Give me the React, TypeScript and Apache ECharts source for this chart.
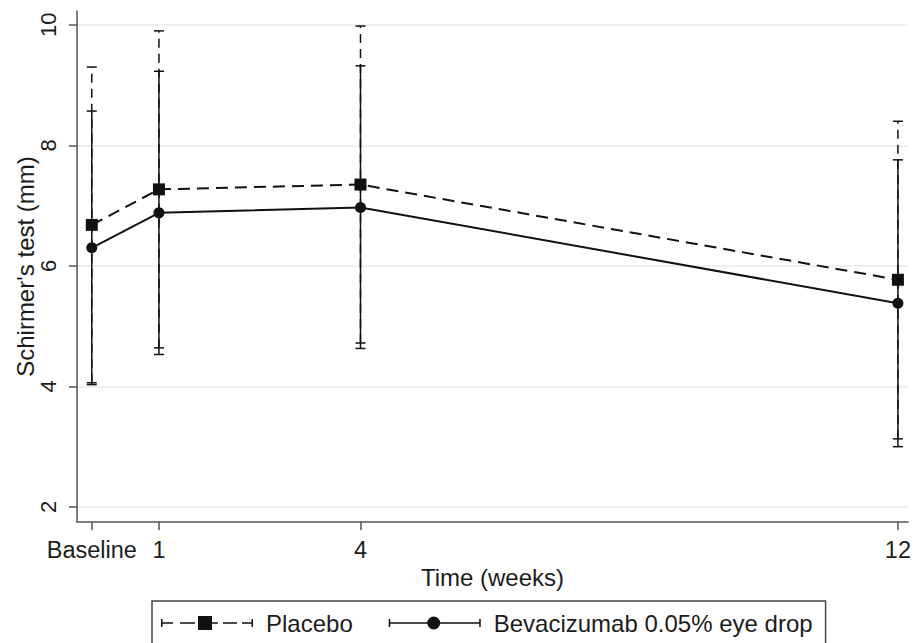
import React, { useEffect, useRef } from "react";
import * as echarts from "echarts";

const xValues = [0, 1, 4, 12];
const xLabels = ["Baseline", "1", "4", "12"];
const yTicks = [2, 4, 6, 8, 10];

const placeboName = "Placebo";
const placeboMean = [6.68, 7.27, 7.35, 5.77];
const placeboUpper = [9.3, 9.9, 9.98, 8.4];
const placeboLower = [4.06, 4.64, 4.72, 3.13];

const bevName = "Bevacizumab 0.05% eye drop";
const bevMean = [6.3, 6.88, 6.97, 5.38];
const bevUpper = [8.57, 9.23, 9.32, 7.76];
const bevLower = [4.03, 4.53, 4.63, 3.0];

const FONT = "'Liberation Sans', Arial, sans-serif";
const INK = "#111111";
const TXT = "#1c1c1c";

const placeboIcon =
  "path://M0 3h1.5v8H0z M0 6.25h12v1.5H0z M19 6.25h15v1.5H19z M37 0h14v14H37z M51 6.25h6v1.5H51z M62 6.25h14v1.5H62z M81 6.25h11v1.5H81z M90.5 3H92v8h-1.5z";
const bevIcon =
  "path://M0 3h1.5v8H0z M0 6.25h92v1.5H0z M90.5 3H92v8h-1.5z M38.5 7a6.5 6.5 0 1 1 13 0a6.5 6.5 0 1 1 -13 0z";

function errorBar(dashed: boolean) {
  return (params: any, api: any) => {
    const x = api.value(0);
    const lo = api.coord([x, api.value(1)]);
    const hi = api.coord([x, api.value(2)]);
    const cw = 5;
    const base = { stroke: INK, lineWidth: 1.5 };
    return {
      type: "group",
      children: [
        {
          type: "line",
          shape: { x1: lo[0], y1: lo[1], x2: hi[0], y2: hi[1] },
          style: { ...base, lineDash: dashed ? [9, 6] : null },
        },
        {
          type: "line",
          shape: { x1: hi[0] - cw, y1: hi[1], x2: hi[0] + cw, y2: hi[1] },
          style: base,
        },
        {
          type: "line",
          shape: { x1: lo[0] - cw, y1: lo[1], x2: lo[0] + cw, y2: lo[1] },
          style: base,
        },
      ],
    };
  };
}

export default function App() {
  const ref = useRef<HTMLDivElement>(null);
  useEffect(() => {
    if (!ref.current) return;
    const chart = echarts.init(ref.current, null, { renderer: "svg" });
    const option: any = {
      animation: false,
      backgroundColor: "#ffffff",
      grid: { left: 77, right: 11, top: 11, bottom: 121, containLabel: false, outerBoundsMode: "none" },
      xAxis: {
        type: "value",
        min: -0.22,
        max: 12.15,
        name: "Time (weeks)",
        nameLocation: "middle",
        nameGap: 43,
        nameMoveOverlap: false,
        nameTextStyle: { fontFamily: FONT, fontSize: 24, color: TXT },
        axisLine: { show: true, onZero: false, lineStyle: { color: "#555555", width: 1.5 } },
        axisTick: { show: true, length: 8, customValues: xValues, lineStyle: { color: "#555555", width: 1.5 } },
        axisLabel: {
          customValues: xValues,
          margin: 16,
          fontFamily: FONT,
          fontSize: 23.5,
          color: TXT,
          formatter: (v: number) => {
            const i = xValues.indexOf(v);
            return i >= 0 ? xLabels[i] : "";
          },
        },
        splitLine: { show: false },
      },
      yAxis: {
        type: "value",
        min: 1.75,
        max: 10.23,
        name: "Schirmer's test (mm)",
        nameLocation: "middle",
        nameGap: 40,
        nameMoveOverlap: false,
        nameTextStyle: { fontFamily: FONT, fontSize: 24, color: TXT },
        axisLine: { show: true, onZero: false, lineStyle: { color: "#555555", width: 1.5 } },
        axisTick: { show: true, length: 8, customValues: yTicks, lineStyle: { color: "#555555", width: 1.5 } },
        axisLabel: {
          customValues: yTicks,
          rotate: 90,
          margin: 18,
          fontFamily: FONT,
          fontSize: 22,
          color: TXT,
        },
        splitLine: { show: true, lineStyle: { color: "#e2edf2", width: 1.5 } },
      },
      legend: {
        left: 152,
        top: 601,
        orient: "horizontal",
        itemWidth: 92,
        itemHeight: 14,
        itemGap: 36,
        padding: [10, 13, 10, 9],
        borderColor: "#444444",
        borderWidth: 1.5,
        borderRadius: 0,
        selectedMode: false,
        itemStyle: { borderWidth: 0, color: INK },
        textStyle: { fontFamily: FONT, fontSize: 24, color: TXT, padding: [0, 0, 0, 8] },
        data: [
          { name: placeboName, icon: placeboIcon },
          { name: bevName, icon: bevIcon },
        ],
      },
      series: [
        {
          name: placeboName + " SD",
          type: "custom",
          z: 2,
          renderItem: errorBar(true),
          encode: { x: 0, y: [1, 2] },
          data: xValues.map((x, i) => [x, placeboLower[i], placeboUpper[i]]),
        },
        {
          name: bevName + " SD",
          type: "custom",
          z: 2,
          renderItem: errorBar(false),
          encode: { x: 0, y: [1, 2] },
          data: xValues.map((x, i) => [x, bevLower[i], bevUpper[i]]),
        },
        {
          name: placeboName,
          type: "line",
          z: 3,
          symbol: "rect",
          symbolSize: 12,
          showAllSymbol: true,
          itemStyle: { color: INK },
          lineStyle: { color: INK, width: 2, type: [12, 7] },
          data: xValues.map((x, i) => [x, placeboMean[i]]),
        },
        {
          name: bevName,
          type: "line",
          z: 3,
          symbol: "circle",
          symbolSize: 11,
          showAllSymbol: true,
          itemStyle: { color: INK },
          lineStyle: { color: INK, width: 2 },
          data: xValues.map((x, i) => [x, bevMean[i]]),
        },
      ],
    };
    chart.setOption(option);
    return () => chart.dispose();
  }, []);
  return (
    <div
      ref={ref}
      style={{ position: "absolute", left: 0, top: 0, width: 919, height: 643, background: "#fff" }}
    />
  );
}
